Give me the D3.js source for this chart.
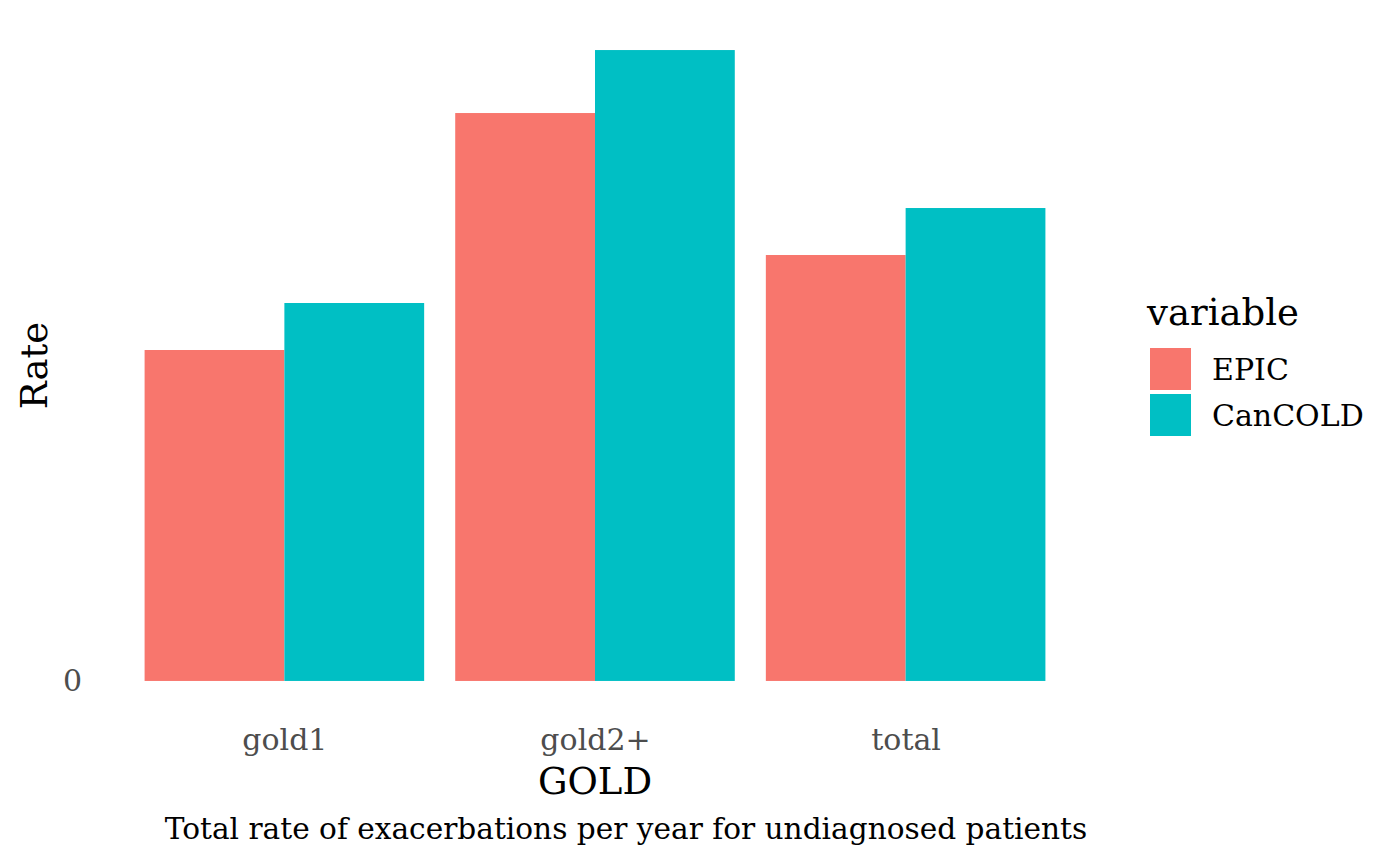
<!DOCTYPE html>
<html><head><meta charset="utf-8">
<script src="https://cdn.jsdelivr.net/npm/d3@7"></script>
<style>body{margin:0;background:#fff}svg{display:block}text{font-family:"DejaVu Serif",serif}</style>
</head><body><svg id="c" width="1400" height="865"></svg>
<script>
const categories = ["gold1", "gold2+", "total"];
const seriesNames = ["EPIC", "CanCOLD"];
const epicValues = [0.331, 0.568, 0.426];
const cancoldValues = [0.378, 0.631, 0.473];
const yTicks = [0];
const colors = ["#F8766D", "#00BFC4"];

const svg = d3.select("#c");
const panel = {left: 98, right: 1092, top: 18.5, bottom: 712.5};
const maxV = d3.max(cancoldValues.concat(epicValues));
const y = d3.scaleLinear().domain([-0.05 * maxV, 1.05 * maxV]).range([panel.bottom, panel.top]);
const step = (panel.right - panel.left) / 3.2;
const xc = d3.scalePoint().domain(categories).range([panel.left + 0.6 * step, panel.right - 0.6 * step]);
const inner = d3.scaleBand().domain(seriesNames).range([-0.45 * step, 0.45 * step]);

const data = [];
categories.forEach((c, i) => {
  data.push({cat: c, s: "EPIC", v: epicValues[i]});
  data.push({cat: c, s: "CanCOLD", v: cancoldValues[i]});
});
const color = d3.scaleOrdinal().domain(seriesNames).range(colors);

svg.append("g").selectAll("rect").data(data).join("rect")
  .attr("x", d => xc(d.cat) + inner(d.s))
  .attr("width", inner.bandwidth())
  .attr("y", d => y(d.v))
  .attr("height", d => y(0) - y(d.v))
  .attr("fill", d => color(d.s));

// y axis
const yAxis = d3.axisLeft(y).tickValues(yTicks).tickFormat(d3.format("d")).tickSize(0).tickPadding(16);
const gy = svg.append("g").attr("transform", `translate(${panel.left},0)`).call(yAxis);
gy.select(".domain").remove();
gy.selectAll("text").attr("font-size", 30).attr("fill", "#4d4d4d").attr("font-family", "DejaVu Serif");

// x axis
const xAxis = d3.axisBottom(xc).tickSize(0).tickPadding(16);
const gx = svg.append("g").attr("transform", `translate(0,${panel.bottom})`).call(xAxis);
gx.select(".domain").remove();
gx.selectAll("text").attr("font-size", 30).attr("fill", "#4d4d4d").attr("font-family", "DejaVu Serif");

// titles
svg.append("text").attr("x", (panel.left + panel.right) / 2).attr("y", 794).attr("text-anchor", "middle")
  .attr("font-size", 37).attr("fill", "#000").text("GOLD");
svg.append("text").attr("transform", `translate(47,${(panel.top + panel.bottom) / 2}) rotate(-90)`).attr("text-anchor", "middle")
  .attr("font-size", 37).attr("fill", "#000").text("Rate");
svg.append("text").attr("x", 626).attr("y", 839).attr("text-anchor", "middle")
  .attr("font-size", 29.6).attr("fill", "#000").text("Total rate of exacerbations per year for undiagnosed patients");

// legend
const lg = svg.append("g");
lg.append("text").attr("x", 1147).attr("y", 325).attr("font-size", 37).attr("fill", "#000").text("variable");
seriesNames.forEach((s, i) => {
  lg.append("rect").attr("x", 1150).attr("y", 348 + i * 46).attr("width", 41).attr("height", 42).attr("fill", color(s));
  lg.append("text").attr("x", 1212).attr("y", 369 + i * 46).attr("dy", "0.35em").attr("font-size", 30).attr("fill", "#000").text(s);
});
</script></body></html>
